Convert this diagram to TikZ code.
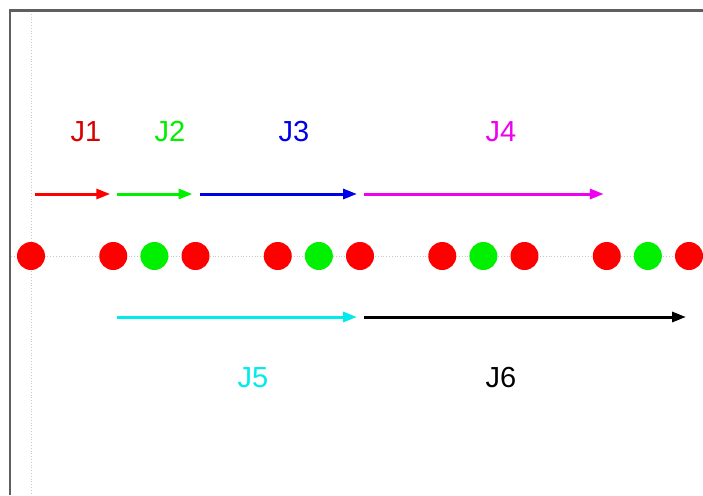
\documentclass[tikz,border=0pt]{standalone}
\usepackage{fontspec}
\setmainfont{Liberation Sans}
\usetikzlibrary{arrows.meta}
\definecolor{cred}{RGB}{255,0,0}
\definecolor{cgreen}{RGB}{0,240,0}
\definecolor{cblue}{RGB}{0,0,230}
\definecolor{cmag}{RGB}{240,0,240}
\definecolor{ccyan}{RGB}{0,235,235}
\definecolor{frame}{RGB}{95,95,95}
\definecolor{grid}{RGB}{200,200,200}
\tikzset{
  dot/.style={circle,inner sep=0pt,minimum size=28pt,draw=none},
  reddot/.style={dot,fill=cred},
  greendot/.style={dot,fill=cgreen},
  job/.style={line width=3pt,-{Triangle[length=14pt,width=10pt]},shorten <=4pt,shorten >=3pt},
  lbl/.style={inner sep=0pt,font=\fontsize{29}{29}\selectfont}
}
\begin{document}
\begin{tikzpicture}[x=1pt,y=-1pt]
\useasboundingbox (0,0) rectangle (703,495);
\clip (0,0) rectangle (703,495);
\fill[white] (0,0) rectangle (703,495);
% grid lines
\draw[grid,dotted,line width=0.8pt] (31,11) -- (31,495);
\draw[grid,dotted,line width=0.8pt] (11,256) -- (703,256);
% frame
\draw[frame,line width=2.4pt] (10,495) -- (10,10.5) -- (703,10.5);
% dots
\def\u{41.125}
\foreach \i/\s in {0/reddot,2/reddot,3/greendot,4/reddot,6/reddot,7/greendot,8/reddot,10/reddot,11/greendot,12/reddot,14/reddot,15/greendot,16/reddot}{
  \node[\s] (c\i) at ({31+\u*\i},256) {};
}
% arrow anchor points
\foreach \i in {0,2,4,8,14}{ \coordinate (a\i) at ({31+\u*\i},194); }
\foreach \i in {2,8,16}{ \coordinate (b\i) at ({31+\u*\i},317); }
\draw[job,cred] (a0) -- (a2);
\draw[job,cgreen] (a2) -- (a4);
\draw[job,cblue] (a4) -- (a8);
\draw[job,cmag] (a8) -- (a14);
\draw[job,ccyan] (b2) -- (b8);
\draw[job,black] (b8) -- (b16);
% labels
\node[lbl,text=cred!85!black] (l1) at (86,132) {J1};
\node[lbl,text=cgreen] (l2) at (170,132) {J2};
\node[lbl,text=cblue] (l3) at (294,132) {J3};
\node[lbl,text=cmag] (l4) at (501,132) {J4};
\node[lbl,text=ccyan] (l5) at (253,378) {J5};
\node[lbl,text=black] (l6) at (501,378) {J6};
\end{tikzpicture}
\end{document}
